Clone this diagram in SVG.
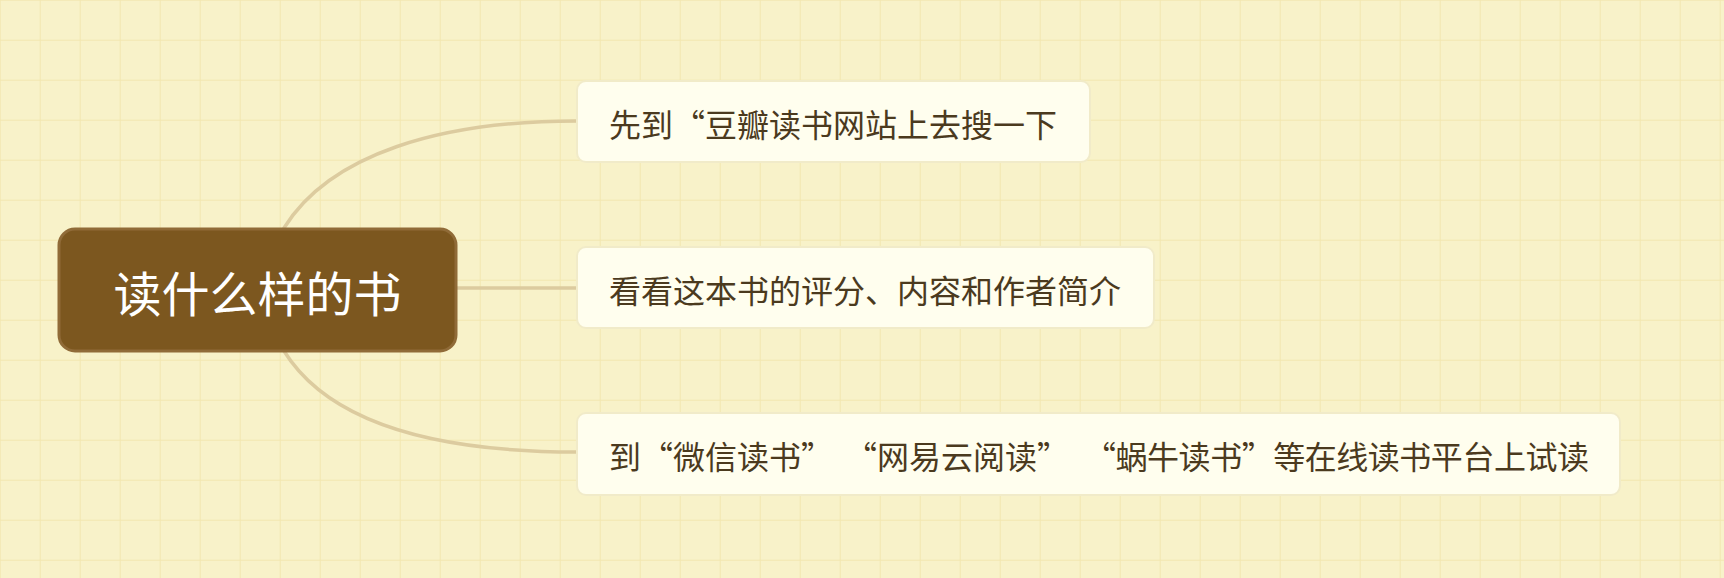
<svg xmlns="http://www.w3.org/2000/svg" width="1724" height="578" viewBox="0 0 1724 578">
  <defs>
    <pattern id="grid" width="40" height="40" patternUnits="userSpaceOnUse" x="0.7" y="0.7">
      <rect width="40" height="40" fill="#f8f2c9"/>
      <path d="M40,0 V40 M0,40 H40" stroke="#f2e7b0" stroke-width="2" fill="none"/>
    </pattern>
    <style>
      .conn { fill: none; stroke: #dccb9f; stroke-width: 3.5; stroke-linecap: round; }
      .root-box { fill: #7c571f; stroke: #906b38; stroke-width: 3; }
      .root-text { font-family: "Noto Sans CJK SC", "Noto Sans", sans-serif; font-size: 48px; fill: #ffffff; }
      .child-box { fill: #fffeee; stroke: #f1ebc9; stroke-width: 2; }
      .child-text { font-family: "Noto Sans CJK SC", "Noto Sans", sans-serif; font-size: 32px; fill: #4b3a1e; }
    </style>
  </defs>
  <rect width="1724" height="578" fill="url(#grid)"/>

  <g id="connectors">
    <path class="conn" d="M284,228 C330,154 440,121 577,121"/>
    <path class="conn" d="M456,288 L577,288"/>
    <path class="conn" d="M284,351 C330,425 440,452 577,452"/>
  </g>

  <g id="root">
    <rect class="root-box" x="59" y="229" width="397" height="122" rx="16" ry="16"/>
    <text class="root-text" x="257.5" y="291" text-anchor="middle" dominant-baseline="central">读什么样的书</text>
  </g>

  <g id="child1">
    <rect class="child-box" x="577" y="81" width="513" height="81" rx="9" ry="9"/>
    <text class="child-text" x="609" y="123" dominant-baseline="central">先到“豆瓣读书网站上去搜一下</text>
  </g>

  <g id="child2">
    <rect class="child-box" x="577" y="247" width="577" height="81" rx="9" ry="9"/>
    <text class="child-text" x="609" y="289" dominant-baseline="central">看看这本书的评分、内容和作者简介</text>
  </g>

  <g id="child3">
    <rect class="child-box" x="577" y="413" width="1043" height="82" rx="9" ry="9"/>
    <text class="child-text" y="455" dominant-baseline="central"><tspan x="609">到“微信读书”</tspan><tspan x="845">“网易云阅读”</tspan><tspan x="1084" textLength="505" lengthAdjust="spacing">“蜗牛读书”等在线读书平台上试读</tspan></text>
  </g>
</svg>
